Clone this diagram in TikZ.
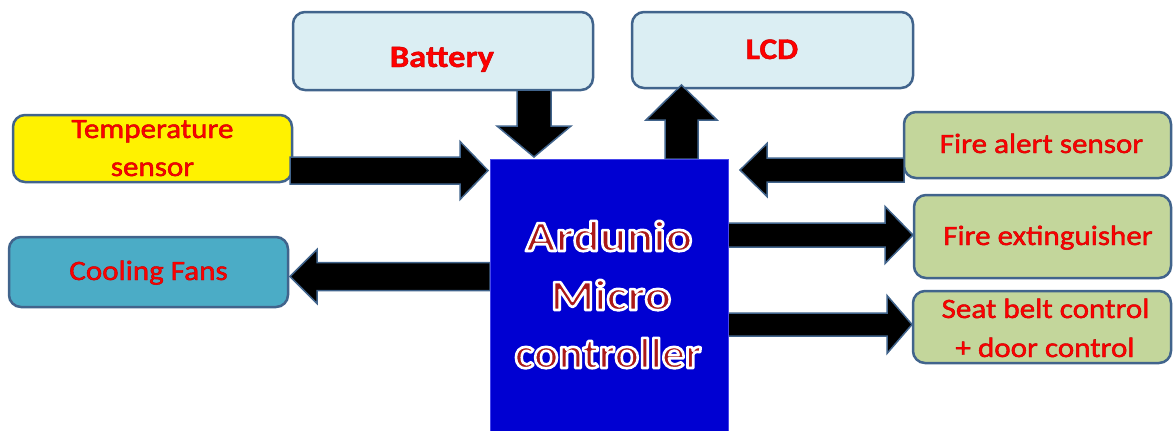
\documentclass[tikz,border=0pt]{standalone}
\usepackage{fontspec}
\setmainfont[FakeStretch=1.11]{Carlito}
\newfontfamily\ardA[FakeStretch=1.16]{Carlito}
\newfontfamily\ardB[FakeStretch=1.07]{Carlito}
\definecolor{edge}{RGB}{65,100,140}
\definecolor{paleblue}{RGB}{219,238,243}
\definecolor{teal}{RGB}{75,172,198}
\definecolor{olive}{RGB}{195,214,155}
\definecolor{lblred}{RGB}{255,0,0}
\definecolor{ardred}{RGB}{170,25,25}
\definecolor{mcublue}{RGB}{0,0,210}
\definecolor{mcuedge}{RGB}{70,70,235}
% outlined text: fill in current colour, stroke in given colour
\newcommand{\strk}[3]{\special{pdf:code q #1 RG #2 w 2 Tr 1 j}#3\special{pdf:code Q}}
\newcommand{\rarrow}[6]{% x1, x2(tip), yc, shaft half, head half, head length
  \draw[blk] (#1,{#3-#4}) -- ({#2-#6},{#3-#4}) -- ({#2-#6},{#3-#5}) -- (#2,#3)
    -- ({#2-#6},{#3+#5}) -- ({#2-#6},{#3+#4}) -- (#1,{#3+#4}) -- cycle;}
\newcommand{\larrow}[6]{% x1, x2(tip), yc, shaft half, head half, head length
  \draw[blk] (#1,{#3-#4}) -- ({#2+#6},{#3-#4}) -- ({#2+#6},{#3-#5}) -- (#2,#3)
    -- ({#2+#6},{#3+#5}) -- ({#2+#6},{#3+#4}) -- (#1,{#3+#4}) -- cycle;}
\newcommand{\varrow}[6]{% y1, y2(tip), xc, shaft half, head half, head length (signed)
  \draw[blk] ({#3-#4},#1) -- ({#3-#4},{#2-#6}) -- ({#3-#5},{#2-#6}) -- (#3,#2)
    -- ({#3+#5},{#2-#6}) -- ({#3+#4},{#2-#6}) -- ({#3+#4},#1) -- cycle;}
\newcommand{\lt}[1]{\strk{0.75 0 0}{0.4}{#1}}
\newcommand{\at}[1]{\strk{1 1 1}{2.6}{#1}}
\begin{document}
\begin{tikzpicture}[x=1pt,y=-1pt,
  box/.style={draw=edge, line width=2.5pt, rounded corners=12pt, inner sep=0pt},
  lbl/.style={text=lblred, font=\fontsize{28}{34}\selectfont, anchor=base, inner sep=0pt},
  lblb/.style={text=lblred, font=\fontsize{31}{36}\selectfont\bfseries, anchor=base, inner sep=0pt},
  ard/.style={text=ardred, anchor=base, inner sep=0pt},
  blk/.style={fill=black, draw=edge, line width=1.5pt, line join=miter}]
\useasboundingbox (0,0) rectangle (1173,431);
\clip (0,0) rectangle (1173,431);
% boxes
\node[box, fill=paleblue, minimum width=300pt, minimum height=78pt] (bat) at (443,51) {};
\node[box, fill=paleblue, minimum width=281pt, minimum height=76pt] (lcd) at (772.5,50) {};
\node[box, fill=yellow, minimum width=279pt, minimum height=67pt] (temp) at (152.5,148.5) {};
\node[box, fill=teal, minimum width=279pt, minimum height=70pt] (cool) at (148.5,272) {};
\node[box, fill=olive, minimum width=267pt, minimum height=66pt] (alert) at (1037.5,145) {};
\node[box, fill=olive, minimum width=257pt, minimum height=83pt] (ext) at (1042.5,236.5) {};
\node[box, fill=olive, minimum width=258pt, minimum height=72pt] (seat) at (1042,327) {};
% arrows
\rarrow{290}{488}{170.5}{13.5}{29}{28}
\larrow{490}{290}{276.5}{14}{27}{27}
\larrow{904}{740}{170}{12}{26.5}{27}
\rarrow{728}{913}{235}{12}{28.5}{28}
\rarrow{728}{912}{324.5}{11.5}{29}{25}
\varrow{90}{157}{534}{17}{37}{31}
\varrow{159}{85}{681.5}{16.5}{35.5}{-35}
% micro controller
\node[draw=mcuedge, line width=1pt, fill=mcublue, minimum width=238pt, minimum height=285pt, inner sep=0pt] (mcu) at (609,301.5) {};
\node[ard, font=\ardA\fontsize{43}{50}\selectfont\bfseries] (tard1) at (609,251) {\at{Ardunio}};
\node[ard, font=\ardA\fontsize{43}{50}\selectfont\bfseries] (tard2) at (611,310) {\at{Micro}};
\node[ard, font=\ardB\fontsize{43}{50}\selectfont\bfseries] (tard3) at (608,368) {\at{controller}};
% labels
\node[lblb] (tbat) at (442,67) {\lt{Battery}};
\node[lblb, font=\fontsize{30}{36}\selectfont\bfseries] (tlcd) at (772,59) {\lt{LCD}};
\node[lbl] (ttemp1) at (152.5,138) {\lt{Temperature}};
\node[lbl] (ttemp2) at (152.5,176) {\lt{sensor}};
\node[lbl] (tcool) at (148.5,280) {\lt{Cooling Fans}};
\node[lbl] (talert) at (1041.5,153) {\lt{Fire alert sensor}};
\node[lbl] (text) at (1048,245) {\lt{Fire extinguisher}};
\node[lbl] (tseat1) at (1045.5,318) {\lt{Seat belt control}};
\node[lbl] (tseat2) at (1045,357) {\lt{+ door control}};
\end{tikzpicture}
\end{document}
